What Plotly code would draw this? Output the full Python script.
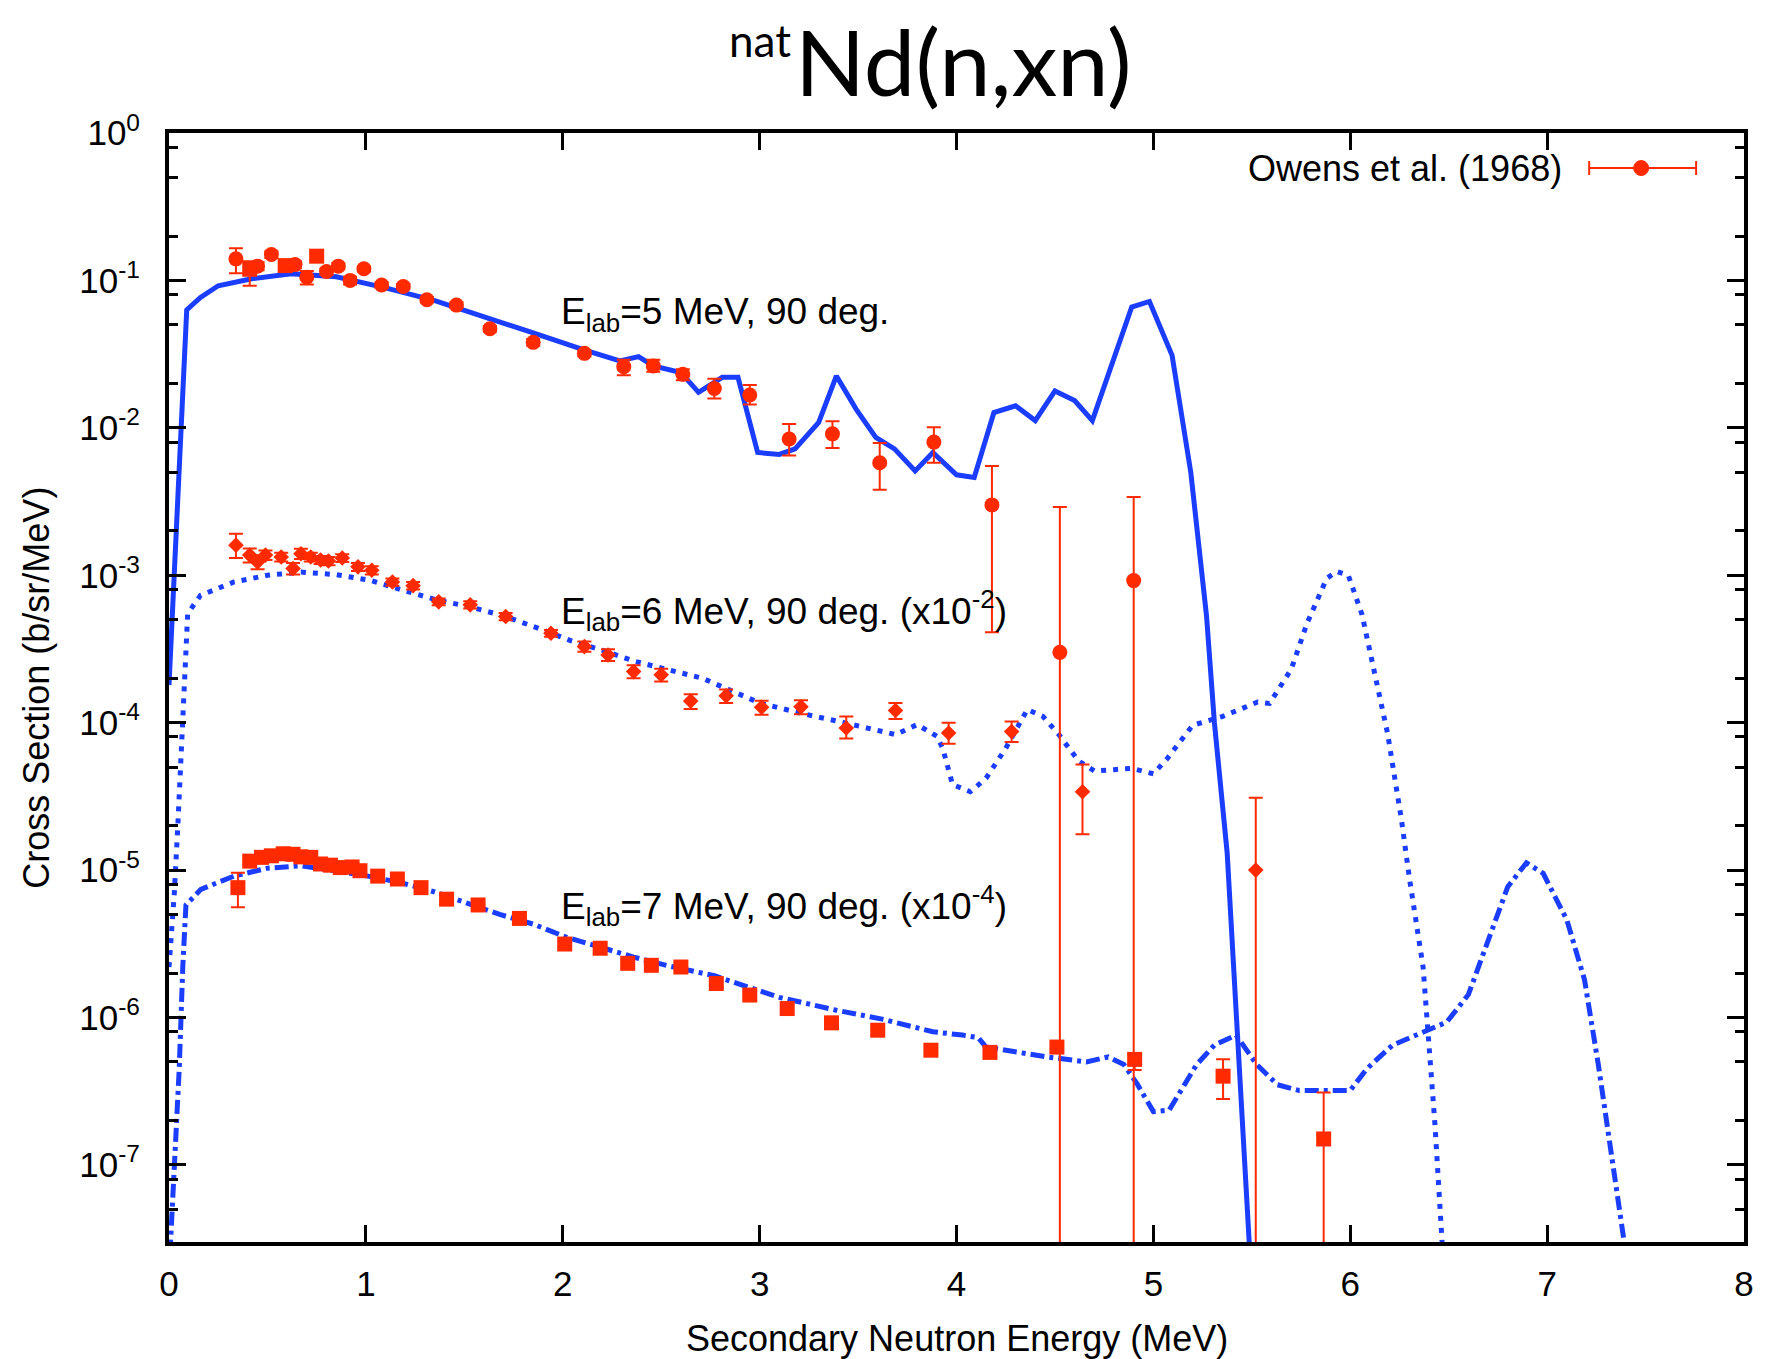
import plotly.graph_objects as go

# ---- Owens et al. (1968) measured spectra at 90 deg ----
# 5 MeV incident
e5 = [0.34, 0.41, 0.45, 0.52, 0.59, 0.64, 0.70, 0.75, 0.80, 0.86, 0.92, 0.99, 1.08, 1.19, 1.31, 1.46,
      1.63, 1.85, 2.11, 2.31, 2.46, 2.61, 2.77, 2.95, 3.15, 3.37, 3.61, 3.885, 4.18, 4.525, 4.90]
s5 = [0.140, 0.119, 0.125, 0.150, 0.126, 0.128, 0.105, 0.146, 0.115, 0.125, 0.100, 0.120, 0.093, 0.091,
      0.074, 0.068, 0.047, 0.038, 0.032, 0.026, 0.0263, 0.0231, 0.0185, 0.0167, 0.0084, 0.0091, 0.0058,
      0.0080, 0.0030, 3.0e-4, 9.2e-4]
s5_hi = [0.165, 0.135, 0.133, 0.158, 0.133, 0.135, 0.116, 0.153, 0.121, 0.131, 0.106, 0.125, 0.097, 0.095,
         0.077, 0.071, 0.049, 0.040, 0.0335, 0.029, 0.029, 0.025, 0.0215, 0.0195, 0.0106, 0.0111, 0.0079,
         0.0101, 0.0055, 0.0029, 0.0034]
s5_lo = [0.112, 0.092, 0.117, 0.142, 0.119, 0.121, 0.094, 0.139, 0.109, 0.119, 0.094, 0.115, 0.089, 0.087,
         0.071, 0.065, 0.045, 0.036, 0.0305, 0.0227, 0.024, 0.021, 0.0158, 0.0144, 0.0065, 0.0073, 0.0038,
         0.0058, 0.00041, 0.0, 0.0]
sym5 = ["circle", "square", "circle", "circle", "square", "circle", "circle", "square", "circle", "circle",
        "circle", "circle", "circle", "circle", "circle", "circle", "circle", "circle", "circle", "circle",
        "circle", "circle", "circle", "circle", "circle", "circle", "circle", "circle", "circle", "circle",
        "circle"]

# 6 MeV incident (x10^-2)
e6 = [0.34, 0.41, 0.45, 0.49, 0.57, 0.63, 0.67, 0.72, 0.77, 0.81, 0.88, 0.96, 1.03, 1.135, 1.24, 1.37,
      1.53, 1.71, 1.94, 2.11, 2.23, 2.36, 2.50, 2.65, 2.83, 3.01, 3.21, 3.44, 3.69, 3.96, 4.28, 4.64, 5.52]
s6 = [1.6e-3, 1.37e-3, 1.23e-3, 1.37e-3, 1.33e-3, 1.11e-3, 1.40e-3, 1.33e-3, 1.27e-3, 1.25e-3, 1.31e-3,
      1.14e-3, 1.08e-3, 9.0e-4, 8.5e-4, 6.6e-4, 6.3e-4, 5.25e-4, 4.04e-4, 3.28e-4, 2.88e-4, 2.22e-4,
      2.11e-4, 1.40e-4, 1.52e-4, 1.27e-4, 1.28e-4, 9.2e-5, 1.21e-4, 8.5e-5, 8.7e-5, 3.4e-5, 1.0e-5]
s6_hi = [1.91e-3, 1.52e-3, 1.36e-3, 1.47e-3, 1.42e-3, 1.21e-3, 1.51e-3, 1.42e-3, 1.35e-3, 1.33e-3, 1.39e-3,
         1.21e-3, 1.15e-3, 9.5e-4, 9.0e-4, 6.95e-4, 6.65e-4, 5.55e-4, 4.25e-4, 3.55e-4, 3.15e-4, 2.45e-4,
         2.32e-4, 1.56e-4, 1.68e-4, 1.41e-4, 1.42e-4, 1.1e-4, 1.36e-4, 1.0e-4, 1.02e-4, 5.2e-5, 3.1e-5]
s6_lo = [1.31e-3, 1.22e-3, 1.10e-3, 1.27e-3, 1.24e-3, 1.01e-3, 1.29e-3, 1.24e-3, 1.19e-3, 1.17e-3, 1.23e-3,
         1.07e-3, 1.01e-3, 8.5e-4, 8.0e-4, 6.25e-4, 5.95e-4, 4.95e-4, 3.83e-4, 3.03e-4, 2.62e-4, 2.0e-4,
         1.9e-4, 1.24e-4, 1.36e-4, 1.13e-4, 1.14e-4, 7.8e-5, 1.06e-4, 7.2e-5, 7.4e-5, 1.75e-5, 0.0]

# 7 MeV incident (x10^-4)
e7 = [0.35, 0.41, 0.47, 0.52, 0.58, 0.63, 0.67, 0.72, 0.77, 0.82, 0.87, 0.93, 0.97, 1.06, 1.16, 1.28,
      1.41, 1.57, 1.78, 2.01, 2.19, 2.33, 2.45, 2.60, 2.78, 2.95, 3.14, 3.365, 3.60, 3.87, 4.17, 4.51,
      4.905, 5.354, 5.865]
s7 = [7.6e-6, 1.15e-5, 1.22e-5, 1.25e-5, 1.29e-5, 1.28e-5, 1.23e-5, 1.22e-5, 1.10e-5, 1.08e-5, 1.04e-5,
      1.05e-5, 9.9e-6, 9.1e-6, 8.7e-6, 7.6e-6, 6.35e-6, 5.8e-6, 4.7e-6, 3.15e-6, 2.95e-6, 2.33e-6,
      2.26e-6, 2.2e-6, 1.7e-6, 1.42e-6, 1.15e-6, 9.2e-7, 8.2e-7, 6.0e-7, 5.8e-7, 6.3e-7, 5.2e-7,
      4.0e-7, 1.5e-7]
s7_hi = [9.6e-6, 1.2e-5, 1.27e-5, 1.3e-5, 1.34e-5, 1.33e-5, 1.28e-5, 1.27e-5, 1.14e-5, 1.12e-5, 1.08e-5,
         1.09e-5, 1.03e-5, 9.5e-6, 9.0e-6, 7.9e-6, 6.6e-6, 6.0e-6, 4.9e-6, 3.3e-6, 3.1e-6, 2.45e-6,
         2.38e-6, 2.3e-6, 1.8e-6, 1.5e-6, 1.22e-6, 9.8e-7, 8.8e-7, 6.5e-7, 6.3e-7, 6.8e-7, 5.7e-7,
         5.2e-7, 3.1e-7]
s7_lo = [5.6e-6, 1.1e-5, 1.17e-5, 1.2e-5, 1.24e-5, 1.23e-5, 1.18e-5, 1.17e-5, 1.06e-5, 1.04e-5, 1.0e-5,
         1.01e-5, 9.5e-6, 8.7e-6, 8.4e-6, 7.3e-6, 6.1e-6, 5.6e-6, 4.5e-6, 3.0e-6, 2.8e-6, 2.21e-6,
         2.14e-6, 2.1e-6, 1.6e-6, 1.34e-6, 1.08e-6, 8.6e-7, 7.6e-7, 5.5e-7, 5.3e-7, 5.8e-7, 4.4e-7,
         2.8e-7, 0.0]

# ---- calculated spectra ----
c5_e = [0.0, 0.09, 0.16, 0.25, 0.42, 0.62, 0.85, 1.1, 1.35, 1.6, 1.85, 2.1, 2.29, 2.385, 2.46, 2.6,
        2.69, 2.81, 2.89, 2.99, 3.10, 3.18, 3.30, 3.39, 3.49, 3.59, 3.685, 3.79, 3.88, 4.0, 4.09, 4.19,
        4.30, 4.40, 4.50, 4.60, 4.69, 4.89, 4.98, 5.095, 5.19, 5.27, 5.31, 5.375, 5.42, 5.49]
c5_s = [1.8e-4, 0.063, 0.0766, 0.092, 0.1025, 0.111, 0.106, 0.089, 0.073, 0.057, 0.044, 0.034, 0.0284,
        0.0304, 0.0263, 0.0237, 0.0174, 0.022, 0.022, 0.0068, 0.0066, 0.0072, 0.0109, 0.0225, 0.0134,
        0.0086, 0.0072, 0.0051, 0.0068, 0.0048, 0.0046, 0.0127, 0.0141, 0.0112, 0.0178, 0.0153, 0.0112,
        0.066, 0.072, 0.031, 0.005, 5.3e-4, 1.0e-4, 1.3e-5, 1.0e-6, 2.5e-8]

c6_e = [0.0, 0.01, 0.027, 0.044, 0.06, 0.078, 0.095, 0.16, 0.33, 0.5, 0.67, 0.85, 1.02, 1.19, 1.36, 1.53,
        1.70, 1.87, 2.04, 2.2, 2.37, 2.54, 2.71, 3.0, 3.22, 3.43, 3.69, 3.80, 3.90, 3.93, 3.98, 4.07,
        4.15, 4.25, 4.36, 4.44, 4.52, 4.62, 4.70, 4.80, 4.89, 5.0, 5.07, 5.2, 5.35, 5.53, 5.59, 5.70,
        5.78, 5.88, 5.93, 5.99, 6.06, 6.19, 6.26, 6.30, 6.37, 6.43, 6.47]
c6_s = [2.2e-6, 3.2e-6, 7e-6, 1.9e-5, 5.7e-5, 2.5e-4, 5.5e-4, 7.3e-4, 9.0e-4, 1.0e-3, 1.05e-3, 1.01e-3,
        9.25e-4, 7.9e-4, 6.8e-4, 6.1e-4, 5.3e-4, 4.4e-4, 3.6e-4, 3.1e-4, 2.6e-4, 2.28e-4, 2.0e-4, 1.36e-4,
        1.15e-4, 1.0e-4, 8.3e-5, 9.7e-5, 8.1e-5, 6.7e-5, 3.8e-5, 3.4e-5, 4.2e-5, 6.7e-5, 1.23e-4, 1.1e-4,
        8.3e-5, 5.5e-5, 4.7e-5, 4.8e-5, 4.9e-5, 4.5e-5, 5.7e-5, 9.6e-5, 1.1e-4, 1.38e-4, 1.35e-4, 2.3e-4,
        4.7e-4, 9.5e-4, 1.06e-3, 1.0e-3, 5.4e-4, 8.4e-5, 2.2e-5, 8.9e-6, 2.2e-6, 1.9e-7, 2.5e-8]

c7_e = [0.005, 0.019, 0.036, 0.052, 0.07, 0.086, 0.162, 0.33, 0.50, 0.67, 0.84, 1.01, 1.18, 1.35, 1.51,
        1.68, 1.85, 2.02, 2.19, 2.36, 2.53, 2.70, 2.77, 3.10, 3.39, 3.63, 3.88, 4.03, 4.11, 4.15, 4.30,
        4.46, 4.66, 4.77, 4.85, 4.92, 5.0, 5.08, 5.22, 5.31, 5.42, 5.525, 5.63, 5.74, 6.0, 6.085, 6.215,
        6.367, 6.49, 6.60, 6.69, 6.80, 6.895, 6.98, 7.10, 7.19, 7.26, 7.315, 7.40]
c7_s = [2.5e-8, 6.2e-8, 1.4e-7, 4.5e-7, 2.2e-6, 5.8e-6, 7.4e-6, 9.1e-6, 1.03e-5, 1.07e-5, 9.9e-6, 9.1e-6,
        8.2e-6, 7.1e-6, 6.0e-6, 5.0e-6, 4.3e-6, 3.5e-6, 3.0e-6, 2.57e-6, 2.25e-6, 2.03e-6, 1.92e-6,
        1.37e-6, 1.12e-6, 9.7e-7, 8.0e-7, 7.6e-7, 7.3e-7, 6.3e-7, 5.8e-7, 5.4e-7, 5.0e-7, 5.4e-7, 4.8e-7,
        3.5e-7, 2.3e-7, 2.35e-7, 4.8e-7, 6.5e-7, 7.6e-7, 4.8e-7, 3.5e-7, 3.2e-7, 3.2e-7, 4.5e-7, 6.5e-7,
        7.9e-7, 9.3e-7, 1.43e-6, 3.07e-6, 7.7e-6, 1.12e-5, 9.5e-6, 4.6e-6, 1.8e-6, 4.8e-7, 1.57e-7, 2.5e-8]

# ---- axis ticks ----
x_ticks = [0, 1, 2, 3, 4, 5, 6, 7, 8]
y_ticks = [1e0, 1e-1, 1e-2, 1e-3, 1e-4, 1e-5, 1e-6, 1e-7]
y_ticktext = ["10<sup>0</sup>", "10<sup>-1</sup>", "10<sup>-2</sup>", "10<sup>-3</sup>",
              "10<sup>-4</sup>", "10<sup>-5</sup>", "10<sup>-6</sup>", "10<sup>-7</sup>"]
y_minor = [m * 10.0 ** (-k) for k in range(1, 9) for m in (8, 5, 2) if m * 10.0 ** (-k) > 3e-8]

RED = "#ff2a00"
BLUE = "#1a3dff"
TXT = "Liberation Sans, Arial, Helvetica, sans-serif"
TITLE_FONT = "Lato, Open Sans, sans-serif"


def bars(vals, hi, lo):
    plus = [h - v for v, h in zip(vals, hi)]
    minus = [v - l for v, l in zip(vals, lo)]
    return dict(type="data", symmetric=False, array=plus, arrayminus=minus,
                color=RED, thickness=2, width=7)


fig = go.Figure()

# calculated curves
fig.add_trace(go.Scatter(x=c5_e, y=c5_s, mode="lines", line=dict(color=BLUE, width=5), showlegend=False))
fig.add_trace(go.Scatter(x=c6_e, y=c6_s, mode="lines",
                         line=dict(color=BLUE, width=5, dash="5px,7px"), showlegend=False))
fig.add_trace(go.Scatter(x=c7_e, y=c7_s, mode="lines",
                         line=dict(color=BLUE, width=5, dash="14px,5px,4px,5px"), showlegend=False))

# measured points
fig.add_trace(go.Scatter(x=e5, y=s5, mode="markers", error_y=bars(s5, s5_hi, s5_lo),
                         marker=dict(color=RED, size=15, symbol=sym5), showlegend=False))
fig.add_trace(go.Scatter(x=e6, y=s6, mode="markers", error_y=bars(s6, s6_hi, s6_lo),
                         marker=dict(color=RED, size=12, symbol="diamond"), showlegend=False))
fig.add_trace(go.Scatter(x=e7, y=s7, mode="markers", error_y=bars(s7, s7_hi, s7_lo),
                         marker=dict(color=RED, size=15, symbol="square"), showlegend=False))

axis_common = dict(showline=True, linecolor="black", linewidth=4, mirror="ticks",
                   ticks="inside", ticklen=17, tickwidth=3, tickcolor="black",
                   showgrid=False, zeroline=False,
                   tickfont=dict(family=TXT, size=35, color="black"))

fig.update_xaxes(range=[0, 8], tickmode="array", tickvals=x_ticks,
                 ticktext=[str(v) for v in x_ticks], ticklabelstandoff=8, **axis_common)
fig.update_yaxes(type="log", range=[-7.5229, 0], tickmode="array", tickvals=y_ticks,
                 ticktext=y_ticktext, ticklabelstandoff=18,
                 minor=dict(tickmode="array", tickvals=y_minor, ticks="inside", ticklen=9,
                            tickwidth=3, tickcolor="black", showgrid=False),
                 **axis_common)

annotations = [
    # title: superscript prefix and main formula set side by side
    dict(text="nat", xref="paper", yref="paper", x=0.3963, y=1.0839,
         xanchor="right", yanchor="middle", showarrow=False,
         font=dict(family=TITLE_FONT, size=44, color="black")),
    dict(text="Nd(n,xn)", xref="paper", yref="paper", x=0.3963, y=1.0655,
         xanchor="left", yanchor="middle", showarrow=False,
         font=dict(family=TITLE_FONT, size=92, color="black")),
    dict(text="Secondary Neutron Energy (MeV)", xref="paper", yref="paper", x=0.5, y=-0.0866,
         xanchor="center", yanchor="middle", showarrow=False,
         font=dict(family=TXT, size=36, color="black")),
    dict(text="Cross Section (b/sr/MeV)", xref="paper", yref="paper", x=-0.0843, y=0.5,
         xanchor="center", yanchor="middle", textangle=-90, showarrow=False,
         font=dict(family=TXT, size=36, color="black")),
    dict(text="E<sub>lab</sub>=5 MeV, 90 deg.", xref="x", yref="y", x=1.98, y=-1.23,
         xanchor="left", yanchor="middle", showarrow=False,
         font=dict(family=TXT, size=37, color="black")),
    dict(text="E<sub>lab</sub>=6 MeV, 90 deg. (x10<sup>-2</sup>)", xref="x", yref="y", x=1.98, y=-3.24,
         xanchor="left", yanchor="middle", showarrow=False,
         font=dict(family=TXT, size=37, color="black")),
    dict(text="E<sub>lab</sub>=7 MeV, 90 deg. (x10<sup>-4</sup>)", xref="x", yref="y", x=1.98, y=-5.24,
         xanchor="left", yanchor="middle", showarrow=False,
         font=dict(family=TXT, size=37, color="black")),
    dict(text="Owens et al. (1968)", xref="paper", yref="paper", x=0.886, y=0.9684,
         xanchor="right", yanchor="middle", showarrow=False,
         font=dict(family=TXT, size=36, color="black")),
]

# legend key: horizontal error bar with a filled dot
ly = 0.9684
cap = 0.0063
shapes = [
    dict(type="line", xref="paper", yref="paper", x0=0.9017, x1=0.9696, y0=ly, y1=ly,
         line=dict(color=RED, width=2)),
    dict(type="line", xref="paper", yref="paper", x0=0.9017, x1=0.9017, y0=ly - cap, y1=ly + cap,
         line=dict(color=RED, width=2)),
    dict(type="line", xref="paper", yref="paper", x0=0.9696, x1=0.9696, y0=ly - cap, y1=ly + cap,
         line=dict(color=RED, width=2)),
    dict(type="circle", xref="paper", yref="paper", x0=0.9347 - 0.00476, x1=0.9347 + 0.00476,
         y0=ly - 0.00676, y1=ly + 0.00676, fillcolor=RED, line=dict(color=RED, width=1)),
]

fig.update_layout(width=1766, height=1359, margin=dict(l=169, r=20, t=133, b=117),
                  paper_bgcolor="white", plot_bgcolor="white",
                  annotations=annotations, shapes=shapes, showlegend=False)

fig.write_html("out.html")
